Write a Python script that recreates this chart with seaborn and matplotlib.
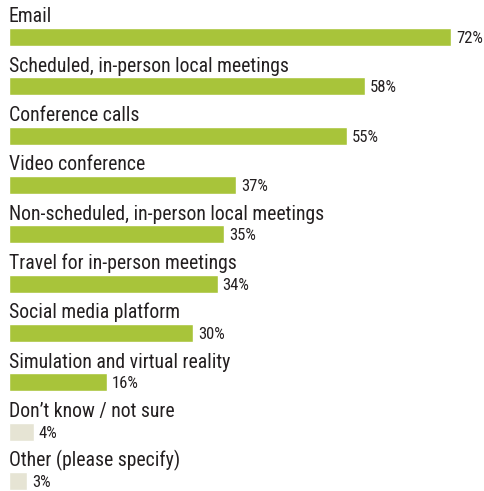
import matplotlib
matplotlib.use("Agg")
import matplotlib.pyplot as plt
import seaborn as sns
import pandas as pd

categories = ["Email", "Scheduled, in-person local meetings", "Conference calls",
              "Video conference", "Non-scheduled, in-person local meetings",
              "Travel for in-person meetings", "Social media platform",
              "Simulation and virtual reality", "Don\u2019t know / not sure",
              "Other (please specify)"]
values = [72, 58, 55, 37, 35, 34, 30, 16, 4, 3]
groups = ["main"] * 8 + ["other"] * 2
palette = {"main": "#a8c43a", "other": "#e6e4d4"}

sns.set_theme(style="white")
plt.rcParams["font.family"] = ["Roboto Condensed", "DejaVu Sans"]

df = pd.DataFrame({"cat": categories, "val": values, "grp": groups})

fig = plt.figure(figsize=(4.84, 4.91), dpi=100)
ax = fig.add_axes([9 / 484, 0, 475 / 484, 1])
sns.barplot(data=df, x="val", y="cat", hue="grp", palette=palette, dodge=False,
            width=0.365, orient="h", legend=False, ax=ax, saturation=1)
ax.set_xlim(0, 475 / 6.14)
ax.set_ylim(9.2, -0.75)
ax.axis("off")

txt = "#231f20"
for i, (c, v) in enumerate(zip(categories, values)):
    ax.text(0, i - 0.3, c, ha="left", va="baseline", fontsize=14.2, color=txt)
    ax.text(v + 0.8, i + 0.12, f"{v}%", ha="left", va="baseline", fontsize=12, color=txt)

fig.savefig("out.png", dpi=100)
